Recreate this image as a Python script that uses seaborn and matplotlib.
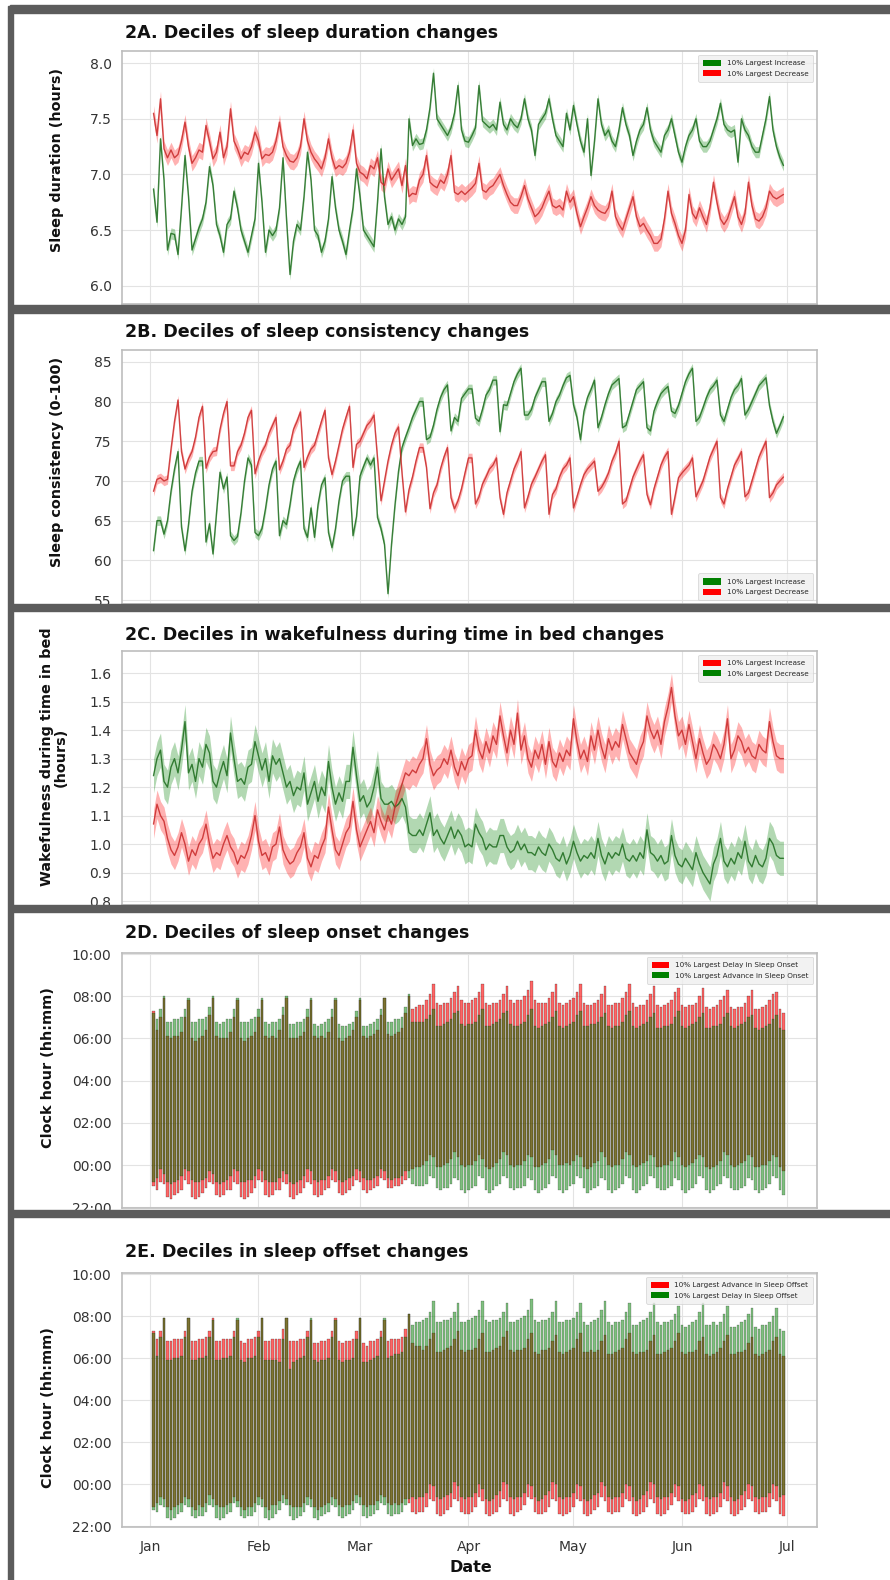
import numpy as np
import pandas as pd
import seaborn as sns
import matplotlib.pyplot as plt
import matplotlib.dates as mdates
from matplotlib.patches import Patch, Rectangle

# --- Data (daily values, Jan 2 - Jun 30 2020) ---
dates = pd.date_range("2020-01-02", periods=181, freq="D")

# 2A sleep duration (hours)
dur_inc = [
    6.87, 6.57, 7.32, 6.95, 6.32, 6.47, 6.46,
    6.28, 6.70, 7.17, 6.80, 6.32, 6.42, 6.52,
    6.60, 6.75, 7.07, 6.90, 6.55, 6.45, 6.30,
    6.55, 6.60, 6.85, 6.70, 6.50, 6.40, 6.30,
    6.45, 6.60, 7.10, 6.75, 6.30, 6.50, 6.45,
    6.50, 6.70, 7.15, 6.60, 6.10, 6.40, 6.55,
    6.50, 6.80, 7.20, 6.95, 6.50, 6.45, 6.30,
    6.40, 6.60, 6.98, 6.70, 6.50, 6.40, 6.28,
    6.50, 6.70, 7.05, 6.80, 6.50, 6.45, 6.40,
    6.35, 6.75, 7.23, 6.80, 6.55, 6.62, 6.50,
    6.60, 6.55, 6.62, 7.50, 7.26, 7.32, 7.27,
    7.28, 7.40, 7.60, 7.91, 7.50, 7.45, 7.40,
    7.35, 7.42, 7.55, 7.80, 7.40, 7.30, 7.29,
    7.35, 7.42, 7.80, 7.48, 7.45, 7.42, 7.45,
    7.40, 7.65, 7.45, 7.40, 7.50, 7.45, 7.42,
    7.50, 7.68, 7.50, 7.40, 7.17, 7.45, 7.50,
    7.55, 7.68, 7.50, 7.35, 7.30, 7.25, 7.55,
    7.40, 7.62, 7.45, 7.30, 7.20, 7.50, 6.99,
    7.30, 7.68, 7.45, 7.35, 7.40, 7.30, 7.25,
    7.40, 7.60, 7.45, 7.35, 7.17, 7.30, 7.40,
    7.45, 7.60, 7.40, 7.30, 7.25, 7.20, 7.35,
    7.40, 7.50, 7.35, 7.20, 7.11, 7.25, 7.35,
    7.40, 7.50, 7.30, 7.25, 7.25, 7.30, 7.40,
    7.50, 7.64, 7.45, 7.40, 7.38, 7.40, 7.11,
    7.50, 7.40, 7.35, 7.25, 7.20, 7.20, 7.35,
    7.50, 7.70, 7.40, 7.25, 7.15, 7.08,
]
dur_dec = [
    7.55, 7.35, 7.68, 7.23, 7.15, 7.22, 7.15,
    7.18, 7.30, 7.47, 7.25, 7.10, 7.15, 7.22,
    7.20, 7.44, 7.30, 7.14, 7.20, 7.38, 7.15,
    7.25, 7.59, 7.30, 7.23, 7.14, 7.20, 7.18,
    7.25, 7.38, 7.30, 7.14, 7.18, 7.17, 7.20,
    7.30, 7.47, 7.25, 7.17, 7.12, 7.11, 7.15,
    7.25, 7.50, 7.30, 7.20, 7.14, 7.10, 7.05,
    7.15, 7.32, 7.15, 7.05, 7.08, 7.06, 7.10,
    7.20, 7.40, 7.10, 7.02, 7.00, 6.96, 7.08,
    7.05, 7.15, 6.93, 6.90, 7.05, 6.95, 7.00,
    7.05, 6.90, 7.08, 6.80, 6.83, 6.82, 6.95,
    7.00, 7.17, 6.93, 6.90, 6.88, 6.95, 6.92,
    7.00, 7.17, 6.84, 6.82, 6.85, 6.82, 6.85,
    6.88, 6.92, 7.10, 6.86, 6.84, 6.88, 6.90,
    6.95, 7.00, 6.90, 6.82, 6.75, 6.72, 6.72,
    6.80, 6.90, 6.78, 6.70, 6.62, 6.65, 6.70,
    6.78, 6.85, 6.72, 6.70, 6.72, 6.68, 6.85,
    6.75, 6.80, 6.65, 6.53, 6.62, 6.70, 6.80,
    6.72, 6.68, 6.66, 6.65, 6.70, 6.85, 6.62,
    6.55, 6.50, 6.60, 6.70, 6.80, 6.62, 6.53,
    6.56, 6.50, 6.45, 6.38, 6.38, 6.42, 6.60,
    6.85, 6.65, 6.56, 6.45, 6.38, 6.50, 6.82,
    6.65, 6.60, 6.70, 6.62, 6.55, 6.70, 6.93,
    6.75, 6.60, 6.55, 6.60, 6.70, 6.80, 6.62,
    6.55, 6.65, 6.93, 6.72, 6.60, 6.58, 6.62,
    6.70, 6.85, 6.80, 6.78, 6.80, 6.82,
]

# 2B sleep consistency (0-100)
cons_inc = [
    61.2, 65.0, 65.0, 63.3, 65.0, 68.7, 71.5,
    73.7, 64.2, 61.2, 64.5, 68.7, 71.0, 72.5,
    72.5, 62.3, 64.6, 60.8, 66.0, 71.1, 69.0,
    70.5, 63.1, 62.5, 63.0, 66.0, 70.0, 72.9,
    72.0, 63.5, 63.1, 64.0, 66.5, 69.5, 71.5,
    72.5, 63.1, 65.0, 64.5, 67.0, 70.0, 71.5,
    72.5, 64.0, 62.9, 66.6, 62.9, 67.0, 69.5,
    70.4, 63.5, 61.6, 64.0, 67.5, 70.0, 70.6,
    70.6, 63.1, 65.5, 70.6, 71.8, 72.9, 72.0,
    72.9, 65.4, 64.0, 62.0, 55.8, 62.0, 67.0,
    71.2, 74.2, 75.5, 76.7, 78.0, 79.0, 80.0,
    80.0, 75.2, 75.5, 77.0, 79.0, 80.5, 81.5,
    82.1, 76.3, 78.0, 77.5, 80.4, 81.0, 81.6,
    81.6, 77.9, 77.5, 79.0, 80.8, 81.5, 82.7,
    82.7, 76.2, 79.6, 79.5, 81.0, 82.5, 83.5,
    84.2, 78.3, 78.3, 79.0, 80.5, 81.5, 82.5,
    82.5, 77.5, 78.5, 80.0, 80.8, 82.0, 83.0,
    83.3, 79.6, 78.0, 75.2, 78.8, 80.5, 81.5,
    82.7, 76.7, 78.0, 79.6, 81.0, 82.1, 82.5,
    82.9, 76.7, 77.0, 78.5, 80.0, 81.5, 82.0,
    82.5, 76.7, 76.3, 78.8, 80.0, 81.0, 81.5,
    81.9, 78.8, 78.5, 79.5, 81.0, 82.5, 83.5,
    84.2, 77.5, 78.0, 79.2, 80.5, 81.5, 82.0,
    82.7, 78.3, 77.5, 79.0, 80.5, 81.5, 82.0,
    82.9, 78.3, 79.0, 80.0, 81.0, 82.0, 82.5,
    83.0, 79.5, 77.5, 76.0, 77.0, 78.1,
]
cons_dec = [
    68.7, 70.2, 70.4, 70.0, 70.2, 74.0, 77.5,
    80.2, 73.7, 71.5, 72.8, 73.7, 75.5, 78.0,
    79.4, 71.6, 73.0, 73.7, 73.8, 76.5, 78.5,
    80.0, 71.9, 71.9, 73.7, 74.5, 76.0, 78.0,
    78.9, 70.9, 72.5, 73.7, 74.5, 76.0, 77.0,
    78.0, 71.4, 72.5, 74.0, 74.5, 76.5, 77.5,
    78.7, 71.7, 73.0, 74.0, 74.5, 76.0, 77.5,
    78.9, 72.9, 70.8, 72.5, 74.5, 76.5, 78.0,
    79.4, 71.7, 74.6, 75.0, 76.0, 77.0, 77.5,
    78.3, 72.9, 67.5, 70.0, 72.5, 74.5, 76.0,
    76.8, 71.0, 66.1, 68.9, 70.5, 72.5, 74.2,
    74.2, 71.7, 66.5, 68.5, 69.5, 71.5, 73.0,
    74.2, 67.9, 66.5, 67.5, 69.0, 71.0, 72.9,
    72.9, 67.1, 68.0, 69.6, 70.5, 71.5, 72.0,
    72.9, 67.9, 65.8, 68.5, 70.0, 71.5, 72.5,
    73.7, 66.6, 68.0, 69.6, 70.5, 71.5, 72.5,
    73.3, 65.8, 68.3, 69.0, 70.5, 71.5, 72.0,
    72.9, 66.6, 68.0, 69.5, 70.8, 71.5, 72.0,
    72.5, 68.7, 69.2, 70.0, 71.0, 72.5, 73.5,
    75.0, 67.1, 67.5, 69.0, 70.5, 71.5, 72.5,
    73.3, 68.3, 67.0, 69.0, 70.5, 72.0, 73.0,
    73.7, 65.8, 68.0, 70.4, 71.0, 71.5, 72.0,
    72.9, 68.0, 69.0, 70.0, 71.5, 73.0, 74.0,
    75.0, 67.9, 67.1, 69.0, 70.5, 72.0, 72.8,
    73.7, 68.0, 68.5, 70.0, 71.5, 73.0, 74.0,
    75.0, 67.9, 68.5, 69.5, 70.0, 70.5,
]

# 2C wakefulness during time in bed (hours)
wake_inc = [
    1.07, 1.14, 1.10, 1.08, 1.02, 0.98, 0.96,
    0.99, 1.04, 1.00, 0.94, 0.98, 0.96, 1.00,
    1.02, 1.07, 1.00, 0.95, 0.97, 0.96, 1.00,
    1.03, 0.99, 0.97, 0.93, 0.96, 0.95, 0.98,
    1.03, 1.10, 1.01, 0.96, 0.97, 0.94, 0.99,
    1.00, 1.06, 0.98, 0.95, 0.93, 0.94, 0.97,
    0.99, 1.04, 0.95, 0.92, 0.96, 0.95, 0.99,
    1.02, 1.13, 1.05, 0.98, 0.96, 1.00, 1.04,
    1.06, 1.15, 1.05, 0.99, 1.02, 1.05, 1.08,
    1.04, 1.12, 1.08, 1.05, 1.10, 1.07, 1.13,
    1.17, 1.21, 1.25, 1.24, 1.26, 1.25, 1.28,
    1.30, 1.37, 1.28, 1.24, 1.26, 1.27, 1.30,
    1.28, 1.33, 1.27, 1.24, 1.29, 1.26, 1.30,
    1.31, 1.40, 1.33, 1.30, 1.36, 1.32, 1.38,
    1.35, 1.45, 1.38, 1.32, 1.40, 1.35, 1.46,
    1.33, 1.38, 1.30, 1.27, 1.33, 1.30, 1.35,
    1.28, 1.36, 1.29, 1.27, 1.32, 1.29, 1.33,
    1.31, 1.44, 1.36, 1.30, 1.33, 1.29, 1.38,
    1.33, 1.40, 1.34, 1.30, 1.37, 1.33, 1.36,
    1.34, 1.42, 1.37, 1.32, 1.30, 1.28, 1.33,
    1.36, 1.45, 1.40, 1.37, 1.40, 1.35, 1.43,
    1.48, 1.55, 1.45, 1.38, 1.40, 1.35, 1.42,
    1.36, 1.30, 1.37, 1.32, 1.28, 1.30, 1.35,
    1.33, 1.30, 1.35, 1.44, 1.30, 1.33, 1.38,
    1.36, 1.32, 1.34, 1.31, 1.30, 1.35, 1.33,
    1.32, 1.43, 1.36, 1.31, 1.30, 1.30,
]
wake_dec = [
    1.24, 1.30, 1.33, 1.22, 1.20, 1.27, 1.30,
    1.25, 1.33, 1.43, 1.25, 1.28, 1.22, 1.30,
    1.27, 1.35, 1.32, 1.22, 1.20, 1.25, 1.29,
    1.24, 1.39, 1.30, 1.22, 1.23, 1.21, 1.27,
    1.28, 1.36, 1.31, 1.26, 1.30, 1.22, 1.31,
    1.28, 1.30, 1.25, 1.20, 1.22, 1.17, 1.20,
    1.19, 1.25, 1.14, 1.18, 1.22, 1.15, 1.20,
    1.17, 1.29, 1.20, 1.14, 1.18, 1.15, 1.22,
    1.22, 1.34, 1.24, 1.15, 1.17, 1.13, 1.15,
    1.20, 1.27, 1.16, 1.14, 1.14, 1.15, 1.13,
    1.14, 1.16, 1.13, 1.04, 1.03, 1.03, 1.05,
    1.03, 1.07, 1.11, 1.03, 1.05, 1.02, 1.00,
    1.03, 1.06, 1.02, 1.05, 1.03, 0.99, 1.00,
    0.99, 1.07, 1.04, 1.02, 0.98, 1.00, 0.99,
    0.99, 1.03, 1.03, 0.99, 0.97, 0.98, 1.01,
    0.98, 1.00, 0.97, 0.97, 0.96, 0.99, 0.97,
    0.96, 1.00, 0.98, 0.95, 0.94, 0.97, 0.93,
    0.96, 1.01, 0.97, 0.94, 0.96, 0.95, 0.97,
    0.95, 1.02, 0.96, 0.93, 0.97, 0.95, 0.97,
    0.96, 1.00, 0.95, 0.94, 0.96, 0.94, 0.97,
    0.95, 1.05, 0.97, 0.96, 0.94, 0.96, 0.93,
    0.94, 1.03, 0.96, 0.93, 0.92, 0.95, 0.93,
    0.91, 0.97, 0.93, 0.90, 0.88, 0.86, 0.93,
    0.96, 1.02, 0.94, 0.92, 0.95, 0.93, 0.97,
    0.95, 1.01, 0.94, 0.92, 0.96, 0.93, 0.92,
    0.95, 1.02, 1.00, 0.96, 0.95, 0.95,
]

# confidence band half-widths
dur_ci = [0.05, 0.07]
cons_ci = [0.6, 0.6]
wake_ci = [0.06, 0.05]

# 2D sleep onset groups: bar from onset to offset, hours relative to midnight
onset_delay_start = [
    -1.0, -1.2, -0.8, -0.9, -1.5, -1.6, -1.4,
    -1.3, -1.2, -0.7, -0.9, -1.5, -1.6, -1.5,
    -1.3, -1.1, -0.8, -0.9, -1.4, -1.5, -1.4,
    -1.2, -1.2, -0.8, -0.9, -1.5, -1.6, -1.5,
    -1.3, -1.1, -0.7, -0.8, -1.4, -1.5, -1.4,
    -1.2, -1.2, -0.8, -0.9, -1.5, -1.6, -1.4,
    -1.3, -1.1, -0.8, -0.9, -1.4, -1.5, -1.4,
    -1.2, -1.1, -0.7, -0.8, -1.3, -1.4, -1.3,
    -1.2, -1.0, -0.7, -0.8, -1.2, -1.3, -1.2,
    -1.1, -1.0, -0.6, -0.7, -1.1, -1.1, -1.0,
    -1.0, -0.9, -0.7, -0.3, -0.2, -0.1, -0.1,
    0.0, 0.2, 0.5, 0.4, -0.1, -0.1, 0.0,
    0.1, 0.3, 0.6, 0.4, 0.0, -0.1, 0.0,
    0.0, 0.2, 0.5, 0.3, -0.1, -0.2, -0.1,
    0.1, 0.3, 0.6, 0.5, 0.0, -0.1, 0.0,
    0.0, 0.2, 0.5, 0.4, -0.1, -0.1, 0.0,
    0.1, 0.3, 0.7, 0.5, 0.0, 0.0, 0.1,
    0.0, 0.2, 0.5, 0.4, -0.1, -0.2, -0.1,
    0.1, 0.2, 0.6, 0.4, 0.0, -0.1, 0.0,
    0.0, 0.3, 0.6, 0.5, 0.0, -0.1, 0.0,
    0.1, 0.2, 0.5, 0.4, -0.1, -0.1, 0.0,
    0.0, 0.2, 0.6, 0.4, 0.0, -0.1, 0.0,
    0.1, 0.3, 0.5, 0.4, -0.1, -0.2, -0.1,
    0.0, 0.2, 0.6, 0.5, 0.0, -0.1, 0.0,
    0.1, 0.2, 0.5, 0.4, -0.1, -0.1, 0.0,
    0.0, 0.2, 0.5, 0.4, -0.1, -0.3,
]
onset_delay_end = [
    7.3, 6.4, 7.0, 7.9, 6.1, 6.0, 6.1,
    6.1, 6.3, 7.0, 7.8, 6.0, 5.9, 6.0,
    6.1, 6.4, 7.1, 7.9, 6.1, 6.0, 6.0,
    6.0, 6.3, 7.0, 7.8, 6.0, 5.9, 6.0,
    6.1, 6.3, 7.0, 7.8, 6.1, 6.0, 6.1,
    6.0, 6.4, 7.1, 7.9, 6.0, 6.0, 6.0,
    6.1, 6.3, 7.0, 7.8, 6.1, 6.0, 6.1,
    6.0, 6.3, 7.0, 7.8, 6.0, 5.9, 6.0,
    6.1, 6.4, 7.0, 7.8, 6.1, 6.0, 6.1,
    6.2, 6.4, 7.1, 7.9, 6.2, 6.1, 6.2,
    6.3, 6.5, 7.2, 8.0, 7.4, 7.5, 7.6,
    7.6, 7.8, 8.1, 8.6, 7.7, 7.6, 7.7,
    7.7, 7.9, 8.2, 8.5, 7.8, 7.7, 7.7,
    7.8, 7.9, 8.2, 8.6, 7.7, 7.6, 7.7,
    7.7, 7.8, 8.1, 8.5, 7.8, 7.7, 7.8,
    7.8, 8.0, 8.3, 8.7, 7.8, 7.7, 7.7,
    7.7, 7.9, 8.2, 8.6, 7.7, 7.6, 7.7,
    7.8, 7.9, 8.2, 8.6, 7.7, 7.6, 7.6,
    7.7, 7.8, 8.1, 8.5, 7.6, 7.6, 7.7,
    7.7, 7.9, 8.2, 8.6, 7.7, 7.5, 7.6,
    7.6, 7.8, 8.1, 8.5, 7.6, 7.5, 7.6,
    7.7, 7.8, 8.2, 8.4, 7.6, 7.5, 7.6,
    7.6, 7.7, 8.0, 8.4, 7.5, 7.4, 7.5,
    7.6, 7.8, 8.0, 8.3, 7.5, 7.4, 7.5,
    7.5, 7.7, 8.0, 8.3, 7.4, 7.4, 7.5,
    7.6, 7.8, 8.1, 8.2, 7.4, 7.2,
]
onset_adv_start = [
    -0.8, -0.6, -0.2, -0.4, -0.8, -0.9, -0.8,
    -0.7, -0.5, -0.2, -0.3, -0.7, -0.8, -0.8,
    -0.7, -0.6, -0.3, -0.4, -0.8, -0.9, -0.8,
    -0.7, -0.5, -0.2, -0.3, -0.8, -0.8, -0.7,
    -0.7, -0.5, -0.2, -0.3, -0.7, -0.8, -0.8,
    -0.8, -0.6, -0.3, -0.4, -0.8, -0.9, -0.8,
    -0.7, -0.5, -0.2, -0.3, -0.7, -0.8, -0.7,
    -0.7, -0.5, -0.2, -0.3, -0.7, -0.8, -0.7,
    -0.6, -0.5, -0.2, -0.3, -0.6, -0.7, -0.7,
    -0.6, -0.5, -0.2, -0.3, -0.6, -0.7, -0.6,
    -0.6, -0.5, -0.3, -0.6, -0.9, -1.0, -1.0,
    -1.0, -0.9, -0.5, -0.6, -1.1, -1.2, -1.1,
    -1.1, -0.9, -0.6, -0.7, -1.2, -1.3, -1.2,
    -1.1, -1.0, -0.5, -0.6, -1.2, -1.3, -1.2,
    -1.0, -0.9, -0.5, -0.6, -1.1, -1.2, -1.1,
    -1.1, -1.0, -0.6, -0.7, -1.2, -1.3, -1.2,
    -1.1, -0.9, -0.5, -0.6, -1.2, -1.3, -1.2,
    -1.0, -0.9, -0.5, -0.6, -1.1, -1.3, -1.2,
    -1.1, -1.0, -0.6, -0.7, -1.2, -1.3, -1.2,
    -1.1, -0.9, -0.5, -0.6, -1.2, -1.3, -1.2,
    -1.0, -0.9, -0.5, -0.6, -1.1, -1.2, -1.2,
    -1.1, -1.0, -0.6, -0.7, -1.2, -1.3, -1.2,
    -1.1, -0.9, -0.5, -0.6, -1.2, -1.3, -1.2,
    -1.0, -0.9, -0.5, -0.6, -1.1, -1.2, -1.2,
    -1.1, -1.0, -0.6, -0.7, -1.2, -1.3, -1.2,
    -1.1, -0.9, -0.5, -0.6, -1.2, -1.4,
]
onset_adv_end = [
    7.2, 6.9, 7.4, 8.0, 6.8, 6.8, 6.9,
    6.9, 7.0, 7.4, 7.9, 6.8, 6.8, 6.9,
    6.9, 7.0, 7.5, 8.0, 6.8, 6.7, 6.8,
    6.9, 6.9, 7.4, 7.9, 6.8, 6.8, 6.8,
    6.9, 7.0, 7.4, 7.9, 6.8, 6.7, 6.8,
    6.8, 6.9, 7.5, 8.0, 6.7, 6.7, 6.8,
    6.8, 6.9, 7.4, 7.9, 6.7, 6.6, 6.7,
    6.8, 6.9, 7.4, 7.9, 6.7, 6.6, 6.6,
    6.7, 6.8, 7.3, 7.9, 6.6, 6.6, 6.7,
    6.8, 6.9, 7.4, 7.9, 6.8, 6.8, 6.9,
    6.9, 7.0, 7.5, 8.1, 6.8, 6.8, 6.8,
    6.8, 6.9, 7.1, 7.4, 6.6, 6.6, 6.7,
    6.8, 6.9, 7.2, 7.3, 6.7, 6.6, 6.7,
    6.7, 6.8, 7.1, 7.4, 6.6, 6.6, 6.7,
    6.8, 6.9, 7.2, 7.3, 6.7, 6.6, 6.6,
    6.7, 6.8, 7.1, 7.4, 6.6, 6.5, 6.6,
    6.7, 6.8, 7.0, 7.3, 6.6, 6.5, 6.6,
    6.7, 6.8, 7.1, 7.3, 6.6, 6.6, 6.7,
    6.7, 6.8, 7.0, 7.2, 6.6, 6.5, 6.6,
    6.6, 6.8, 7.1, 7.3, 6.6, 6.5, 6.6,
    6.7, 6.8, 7.0, 7.2, 6.5, 6.5, 6.6,
    6.6, 6.7, 7.0, 7.3, 6.6, 6.5, 6.6,
    6.7, 6.8, 7.0, 7.2, 6.5, 6.5, 6.6,
    6.6, 6.7, 7.0, 7.2, 6.6, 6.5, 6.6,
    6.7, 6.8, 7.0, 7.1, 6.5, 6.4, 6.5,
    6.6, 6.7, 6.9, 7.1, 6.5, 6.4,
]

# 2E sleep offset groups
offset_adv_start = [
    -1.1, -0.9, -0.6, -0.7, -1.1, -1.2, -1.1,
    -1.0, -0.9, -0.6, -0.7, -1.1, -1.2, -1.0,
    -1.1, -0.9, -0.5, -0.7, -1.0, -1.1, -1.1,
    -1.0, -0.9, -0.6, -0.8, -1.1, -1.2, -1.1,
    -1.1, -0.9, -0.6, -0.7, -1.1, -1.2, -1.0,
    -1.0, -0.8, -0.5, -0.7, -1.0, -1.1, -1.1,
    -1.1, -0.9, -0.6, -0.7, -1.1, -1.2, -1.1,
    -1.0, -0.9, -0.6, -0.7, -1.0, -1.1, -1.0,
    -1.0, -0.8, -0.5, -0.6, -1.0, -1.1, -1.0,
    -1.0, -0.8, -0.5, -0.6, -0.9, -1.0, -0.9,
    -1.0, -0.9, -0.7, -0.9, -1.3, -1.4, -1.3,
    -1.3, -1.1, -0.7, -0.8, -1.4, -1.5, -1.4,
    -1.2, -1.1, -0.7, -0.8, -1.3, -1.4, -1.4,
    -1.3, -1.1, -0.6, -0.8, -1.4, -1.5, -1.4,
    -1.3, -1.1, -0.7, -0.8, -1.4, -1.5, -1.3,
    -1.2, -1.0, -0.6, -0.7, -1.3, -1.4, -1.4,
    -1.3, -1.1, -0.7, -0.8, -1.4, -1.5, -1.4,
    -1.3, -1.1, -0.7, -0.8, -1.4, -1.5, -1.4,
    -1.2, -1.1, -0.6, -0.8, -1.3, -1.4, -1.3,
    -1.3, -1.1, -0.7, -0.8, -1.4, -1.5, -1.4,
    -1.3, -1.1, -0.7, -0.9, -1.4, -1.5, -1.4,
    -1.2, -1.0, -0.6, -0.8, -1.3, -1.4, -1.4,
    -1.3, -1.1, -0.7, -0.8, -1.4, -1.5, -1.4,
    -1.3, -1.1, -0.7, -0.8, -1.4, -1.5, -1.4,
    -1.2, -1.1, -0.7, -0.8, -1.3, -1.4, -1.3,
    -1.3, -1.1, -0.7, -0.8, -1.4, -1.5,
]
offset_adv_end = [
    7.3, 6.9, 7.3, 7.9, 6.8, 6.8, 6.9,
    6.9, 6.9, 7.3, 7.9, 6.8, 6.8, 6.9,
    6.9, 7.0, 7.3, 7.9, 6.8, 6.8, 6.9,
    6.9, 6.9, 7.3, 7.8, 6.8, 6.7, 6.9,
    6.9, 7.0, 7.3, 7.9, 6.8, 6.8, 6.9,
    6.9, 6.9, 7.4, 7.9, 6.8, 6.8, 6.8,
    6.9, 6.9, 7.3, 7.8, 6.7, 6.7, 6.8,
    6.8, 6.9, 7.3, 7.9, 6.8, 6.7, 6.8,
    6.8, 6.9, 7.3, 7.9, 6.7, 6.6, 6.8,
    6.8, 6.9, 7.3, 7.8, 6.8, 6.9, 6.9,
    6.9, 7.0, 7.4, 8.1, 6.7, 6.6, 6.6,
    6.4, 6.6, 6.9, 7.2, 6.3, 6.3, 6.4,
    6.5, 6.6, 6.9, 7.3, 6.4, 6.3, 6.4,
    6.4, 6.5, 6.9, 7.2, 6.3, 6.3, 6.4,
    6.5, 6.6, 7.0, 7.3, 6.4, 6.3, 6.4,
    6.4, 6.5, 6.9, 7.2, 6.3, 6.2, 6.4,
    6.4, 6.5, 6.8, 7.1, 6.3, 6.2, 6.3,
    6.4, 6.5, 6.9, 7.2, 6.3, 6.3, 6.4,
    6.3, 6.4, 6.8, 7.1, 6.2, 6.2, 6.3,
    6.4, 6.5, 6.9, 7.2, 6.3, 6.2, 6.3,
    6.3, 6.4, 6.8, 7.1, 6.2, 6.2, 6.3,
    6.4, 6.5, 6.8, 7.2, 6.3, 6.2, 6.3,
    6.3, 6.4, 6.8, 7.0, 6.2, 6.1, 6.2,
    6.3, 6.5, 6.8, 7.1, 6.2, 6.2, 6.3,
    6.3, 6.4, 6.7, 7.0, 6.2, 6.1, 6.2,
    6.3, 6.4, 6.8, 7.0, 6.2, 6.1,
]
offset_delay_start = [
    -1.2, -1.3, -1.0, -1.1, -1.6, -1.7, -1.6,
    -1.4, -1.3, -1.0, -1.1, -1.5, -1.6, -1.5,
    -1.5, -1.3, -1.0, -1.1, -1.6, -1.7, -1.6,
    -1.4, -1.3, -0.9, -1.1, -1.5, -1.6, -1.5,
    -1.5, -1.3, -1.0, -1.1, -1.6, -1.7, -1.6,
    -1.4, -1.2, -0.9, -1.0, -1.5, -1.7, -1.6,
    -1.5, -1.3, -1.0, -1.1, -1.6, -1.7, -1.5,
    -1.4, -1.3, -1.0, -1.1, -1.5, -1.6, -1.5,
    -1.4, -1.2, -0.9, -1.0, -1.5, -1.6, -1.5,
    -1.4, -1.2, -0.9, -1.0, -1.4, -1.5, -1.4,
    -1.4, -1.3, -1.0, -0.7, -0.6, -0.7, -0.6,
    -0.6, -0.4, 0.0, -0.1, -0.6, -0.7, -0.6,
    -0.5, -0.4, 0.1, -0.1, -0.6, -0.7, -0.6,
    -0.6, -0.4, 0.0, -0.2, -0.7, -0.8, -0.7,
    -0.5, -0.3, 0.1, 0.0, -0.6, -0.7, -0.6,
    -0.6, -0.4, 0.0, -0.1, -0.6, -0.8, -0.7,
    -0.5, -0.3, 0.1, 0.0, -0.6, -0.7, -0.6,
    -0.6, -0.4, 0.0, -0.1, -0.7, -0.8, -0.7,
    -0.5, -0.4, 0.1, -0.1, -0.6, -0.7, -0.6,
    -0.6, -0.4, 0.0, -0.1, -0.6, -0.8, -0.7,
    -0.5, -0.3, 0.1, 0.0, -0.6, -0.7, -0.6,
    -0.6, -0.4, 0.0, -0.1, -0.7, -0.8, -0.7,
    -0.5, -0.4, 0.0, -0.1, -0.6, -0.7, -0.6,
    -0.6, -0.4, 0.1, -0.1, -0.6, -0.8, -0.7,
    -0.5, -0.3, 0.0, -0.1, -0.6, -0.7, -0.6,
    -0.6, -0.4, 0.0, -0.1, -0.6, -0.5,
]
offset_delay_end = [
    7.2, 6.1, 7.0, 7.9, 5.9, 5.9, 6.0,
    6.0, 6.1, 7.0, 7.9, 5.9, 5.9, 6.0,
    6.0, 6.1, 7.0, 7.8, 5.9, 5.9, 6.0,
    6.0, 6.1, 7.0, 7.9, 5.9, 5.8, 6.0,
    6.0, 6.1, 7.0, 7.9, 5.9, 5.9, 5.9,
    5.9, 5.8, 6.9, 7.9, 5.5, 5.8, 5.9,
    6.0, 6.1, 7.0, 7.9, 5.9, 5.8, 5.9,
    5.9, 6.0, 7.0, 7.8, 5.9, 5.8, 5.9,
    5.9, 6.0, 6.9, 7.9, 5.8, 5.8, 5.9,
    6.0, 6.1, 7.0, 7.9, 6.0, 6.1, 6.2,
    6.2, 6.3, 7.0, 8.1, 7.6, 7.7, 7.7,
    7.8, 7.9, 8.2, 8.7, 7.7, 7.7, 7.8,
    7.8, 7.9, 8.2, 8.6, 7.7, 7.7, 7.8,
    7.9, 8.0, 8.3, 8.7, 7.8, 7.7, 7.8,
    7.8, 7.9, 8.2, 8.6, 7.7, 7.7, 7.8,
    7.9, 8.0, 8.3, 8.8, 7.8, 7.7, 7.8,
    7.8, 7.9, 8.2, 8.7, 7.7, 7.7, 7.8,
    7.8, 7.9, 8.2, 8.6, 7.7, 7.6, 7.7,
    7.8, 7.9, 8.3, 8.7, 7.7, 7.6, 7.7,
    7.7, 7.8, 8.2, 8.6, 7.6, 7.6, 7.7,
    7.8, 7.9, 8.2, 8.6, 7.7, 7.6, 7.7,
    7.7, 7.8, 8.1, 8.5, 7.6, 7.5, 7.6,
    7.7, 7.8, 8.2, 8.6, 7.6, 7.6, 7.7,
    7.6, 7.7, 8.1, 8.5, 7.5, 7.5, 7.6,
    7.7, 7.8, 8.1, 8.4, 7.5, 7.4, 7.6,
    7.6, 7.7, 8.0, 8.4, 7.4, 7.3,
]

clock_ticks = [-2, 0, 2, 4, 6, 8, 10]
clock_labels = ["22:00", "00:00", "02:00", "04:00", "06:00", "08:00", "10:00"]

# --- Figure ---
sns.set_style("whitegrid")
plt.rcParams["font.family"] = ["DejaVu Sans"]

W, H = 890, 1580
fig = plt.figure(figsize=(W / 100, H / 100), dpi=100)


def px_axes(top, bottom, left=122, right=817):
    return fig.add_axes([left / W, 1 - bottom / H, (right - left) / W, (bottom - top) / H])


def style_axes(ax, bottom_labels=False):
    ax.set_xlim(pd.Timestamp("2019-12-24"), pd.Timestamp("2020-07-09 14:00"))
    ax.xaxis.set_major_locator(mdates.MonthLocator())
    ax.xaxis.set_major_formatter(mdates.DateFormatter("%b"))
    ax.grid(True, color="#e3e3e3", lw=0.8)
    for s in ax.spines.values():
        s.set_color("#bdbdbd")
        s.set_linewidth(1.2)
    ax.tick_params(axis="both", labelsize=10, colors="#333333", pad=4)
    ax.set_xlabel("")
    ax.set_ylabel("")
    if not bottom_labels:
        ax.tick_params(axis="x", labelbottom=False)


def add_legend(ax, items, loc):
    handles = [Patch(facecolor=c, edgecolor="none", label=l) for c, l in items]
    leg = ax.legend(handles=handles, loc=loc, fontsize=5.2, frameon=True,
                    handlelength=2.4, handleheight=1.0, borderpad=0.7,
                    labelspacing=0.5, facecolor="#efefef", edgecolor="#d0d0d0")
    leg.get_frame().set_linewidth(0.6)


def line_panel(ax, series):
    for vals, ci, line_col, band_col in series:
        v = np.array(vals)
        ax.fill_between(dates, v - ci, v + ci, color=band_col, alpha=0.3, lw=0)
        sns.lineplot(x=dates, y=v, ax=ax, color=line_col, lw=1.0, alpha=0.85)


def bar_panel(ax, red_start, red_end, grn_start, grn_end):
    rs, re_ = np.array(red_start), np.array(red_end)
    gs, ge = np.array(grn_start), np.array(grn_end)
    ax.bar(dates, re_ - rs, bottom=rs, width=0.8, color="red", alpha=0.6,
           edgecolor="black", linewidth=0.25)
    ax.bar(dates, ge - gs, bottom=gs, width=0.8, color="green", alpha=0.5,
           edgecolor="black", linewidth=0.25)
    ax.set_ylim(-2.03, 10.05)
    ax.set_yticks(clock_ticks)
    ax.set_yticklabels(clock_labels)


# 2A
axA = px_axes(51, 304)
line_panel(axA, [(dur_inc, dur_ci[0], "#1b6b1b", "green"),
                 (dur_dec, dur_ci[1], "#c82828", "red")])
axA.set_ylim(5.835, 8.11)
axA.set_yticks([6.0, 6.5, 7.0, 7.5, 8.0])
axA.yaxis.set_major_formatter(plt.FormatStrFormatter("%.1f"))
style_axes(axA)
add_legend(axA, [("green", "10% Largest Increase"), ("red", "10% Largest Decrease")], "upper right")

# 2B
axB = px_axes(350, 604)
line_panel(axB, [(cons_inc, cons_ci[0], "#1b6b1b", "green"),
                 (cons_dec, cons_ci[1], "#c82828", "red")])
axB.set_ylim(54.5, 86.5)
axB.set_yticks([55, 60, 65, 70, 75, 80, 85])
style_axes(axB)
add_legend(axB, [("green", "10% Largest Increase"), ("red", "10% Largest Decrease")], "lower right")

# 2C
axC = px_axes(651, 905)
line_panel(axC, [(wake_dec, wake_ci[0], "#1b6b1b", "green"),
                 (wake_inc, wake_ci[1], "#c82828", "red")])
axC.set_ylim(0.786, 1.678)
axC.set_yticks([0.8, 0.9, 1.0, 1.1, 1.2, 1.3, 1.4, 1.5, 1.6])
axC.yaxis.set_major_formatter(plt.FormatStrFormatter("%.1f"))
style_axes(axC)
add_legend(axC, [("red", "10% Largest Increase"), ("green", "10% Largest Decrease")], "upper right")

# 2D
axD = px_axes(953, 1208)
bar_panel(axD, onset_delay_start, onset_delay_end, onset_adv_start, onset_adv_end)
style_axes(axD)
add_legend(axD, [("red", "10% Largest Delay in Sleep Onset"),
                 ("green", "10% Largest Advance in Sleep Onset")], "upper right")

# 2E
axE = px_axes(1273, 1527)
bar_panel(axE, offset_adv_start, offset_adv_end, offset_delay_start, offset_delay_end)
style_axes(axE, bottom_labels=True)
add_legend(axE, [("red", "10% Largest Advance in Sleep Offset"),
                 ("green", "10% Largest Delay in Sleep Offset")], "upper right")
axE.tick_params(axis="x", labelsize=10, pad=6)

# titles and y labels placed in pixel coordinates
titles = [("2A. Deciles of sleep duration changes", 33),
          ("2B. Deciles of sleep consistency changes", 332),
          ("2C. Deciles in wakefulness during time in bed changes", 635),
          ("2D. Deciles of sleep onset changes", 933),
          ("2E. Deciles in sleep offset changes", 1252)]
for txt, y in titles:
    fig.text(125 / W, 1 - y / H, txt, ha="left", va="center", fontsize=12.6,
             fontweight="bold", color="#111111")

ylabels = [("Sleep duration (hours)", 57, 160),
           ("Sleep consistency (0-100)", 57, 462),
           ("Wakefulness during time in bed\n(hours)", 54, 757),
           ("Clock hour (hh:mm)", 48, 1068),
           ("Clock hour (hh:mm)", 48, 1408)]
for txt, x, y in ylabels:
    fig.text(x / W, 1 - y / H, txt, ha="center", va="center", rotation=90,
             fontsize=10.4, fontweight="bold", color="#111111", linespacing=1.0)

fig.text(471 / W, 1 - 1567 / H, "Date", ha="center", va="center", fontsize=11.5,
         fontweight="bold", color="#111111")

# panel separators (dark bars between the stacked panels)
for y in [9, 309, 607, 908, 1213]:
    fig.add_artist(Rectangle((10 / W, 1 - (y + 3.5) / H), 1 - 10 / W, 7 / H,
                             transform=fig.transFigure, color="#5c5c5c", zorder=20))
fig.add_artist(Rectangle((8 / W, 0), 5 / W, 1 - 6 / H, transform=fig.transFigure,
                         color="#5c5c5c", zorder=20))

fig.savefig("out.png", dpi=100)
